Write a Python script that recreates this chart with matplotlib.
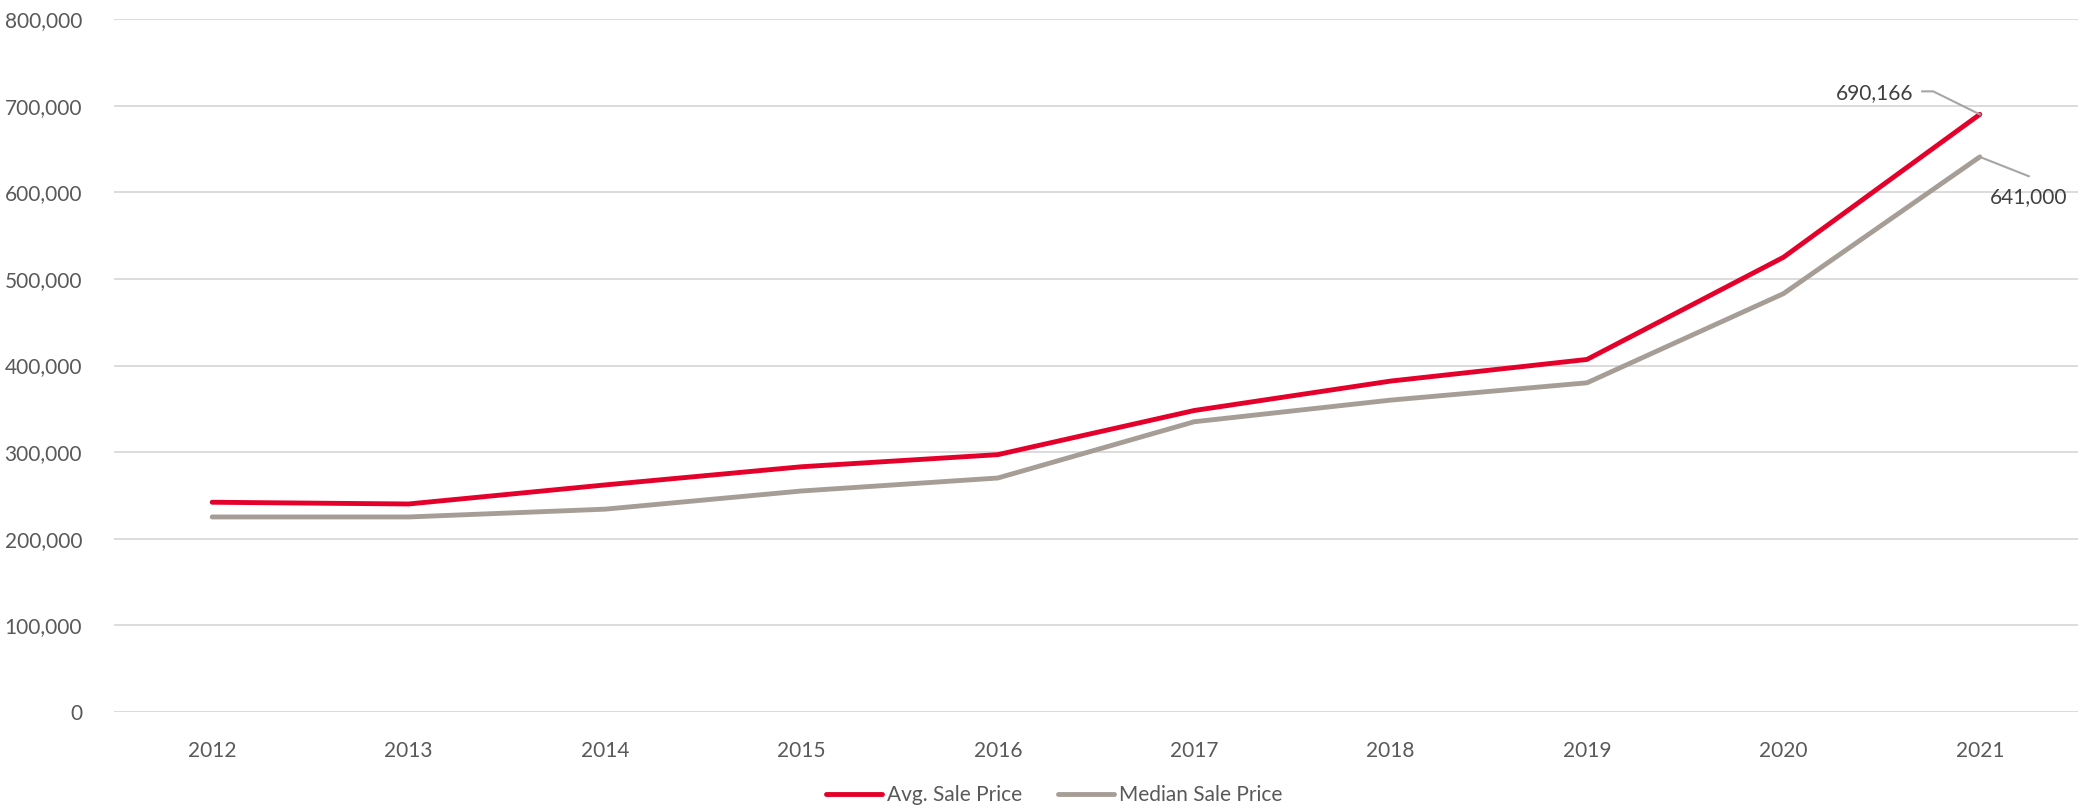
import matplotlib.pyplot as plt
from matplotlib.ticker import FuncFormatter
from matplotlib.lines import Line2D

plt.rcParams['font.family'] = ['Lato', 'DejaVu Sans']

years = ['2012', '2013', '2014', '2015', '2016', '2017', '2018', '2019', '2020', '2021']
avg_price = [242000, 240000, 262000, 283000, 297000, 348000, 382000, 407000, 525000, 690166]
median_price = [225000, 225000, 234000, 255000, 270000, 335000, 360000, 380000, 483000, 641000]

RED = '#E4002B'
GREY = '#A69E96'
TEXT = '#595959'
GRID = '#D9D9D9'
FS = 15

W, H = 2084, 810
fig = plt.figure(figsize=(W / 100, H / 100), dpi=100)
ax = fig.add_axes([114 / W, (H - 711.7) / H, 1964 / W, 692.4 / H])

x = list(range(len(years)))
ax.plot(x, avg_price, color=RED, lw=3.5, solid_capstyle='round', solid_joinstyle='round',
        label='Avg. Sale Price', zorder=3)
ax.plot(x, median_price, color=GREY, lw=3.5, solid_capstyle='round', solid_joinstyle='round',
        label='Median Sale Price', zorder=2)

ax.set_xlim(-0.5, len(years) - 0.5)
ax.set_ylim(0, 800000)
ax.set_yticks(range(0, 800001, 100000))
ax.yaxis.set_major_formatter(FuncFormatter(lambda v, p: f'{int(v):,}'))
ax.set_xticks(x)
ax.set_xticklabels(years)
ax.tick_params(axis='both', length=0, labelsize=FS, labelcolor=TEXT)
ax.tick_params(axis='y', pad=23)
ax.tick_params(axis='x', pad=21)
ax.grid(axis='y', color=GRID, lw=1.3)
ax.set_axisbelow(True)
for s in ax.spines.values():
    s.set_visible(False)

# value labels at the last year, with leader lines drawn in pixel offsets
def leader(xi, yi, pts, text, tx, ty, ha):
    px, py = ax.transData.transform((xi, yi))
    xs = [px + dx for dx, dy in pts]
    ys = [py + dy for dx, dy in pts]
    fig.add_artist(Line2D(xs, ys, transform=None, color='#A6A6A6', lw=1.5))
    fig.text(px + tx, py + ty, text, transform=None, ha=ha, va='center',
             fontsize=FS, color='#404040')

last = len(years) - 1
leader(last, avg_price[-1], [(-57.6, 23), (-46.6, 23), (0, 0)], f'{avg_price[-1]:,}', -66.6, 21.5, 'right')
leader(last, median_price[-1], [(0, 0), (49, -19.3)], f'{median_price[-1]:,}', 10, -40, 'left')

fig.legend(loc='center', bbox_to_anchor=(1054 / W, 1 - 795 / H), ncol=2, frameon=False,
           fontsize=FS, labelcolor=TEXT, handlelength=2.7, handletextpad=0.25,
           columnspacing=1.7, borderpad=0)

fig.savefig('out.png', dpi=100)
